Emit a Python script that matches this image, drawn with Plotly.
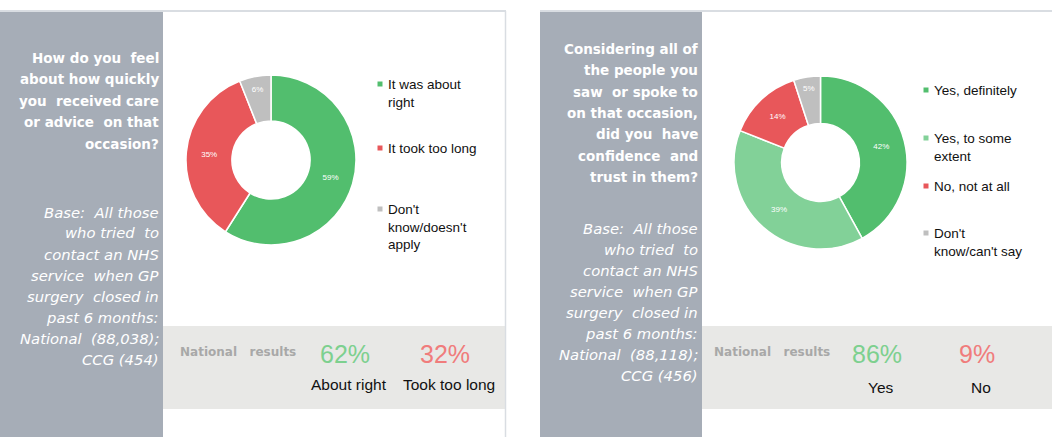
import plotly.graph_objects as go

W, H = 1052, 437

# ---- data -------------------------------------------------------------
q1_labels = ["It was about right", "It took too long", "Don't know/doesn't apply"]
q1_values = [59, 35, 6]
q1_colors = ["#52BE6E", "#E8575A", "#BFBFBF"]
q1_legend_text = ["It was about<br>right", "It took too long", "Don't<br>know/doesn't<br>apply"]
q1_national_values = ["62%", "32%"]
q1_national_labels = ["About right", "Took too long"]

q2_labels = ["Yes, definitely", "Yes, to some extent", "No, not at all", "Don't know/can't say"]
q2_values = [42, 39, 14, 5]
q2_colors = ["#52BE6E", "#82D198", "#E8575A", "#BFBFBF"]
q2_legend_text = ["Yes, definitely", "Yes, to some<br>extent", "No, not at all", "Don't<br>know/can't say"]
q2_national_values = ["86%", "9%"]
q2_national_labels = ["Yes", "No"]

q1_question = ["How do you  feel", "about how quickly", "you  received care", "or advice  on that", "occasion?"]
q1_base = ["Base:  All those", "who tried  to", "contact an NHS", "service  when GP", "surgery  closed in", "past 6 months:",
           "National  (88,038);", "CCG (454)"]
q2_question = ["Considering all of", "the people you", "saw  or spoke to", "on that occasion,", "did you  have",
               "confidence  and", "trust in them?"]
q2_base = ["Base:  All those", "who tried  to", "contact an NHS", "service  when GP", "surgery  closed in",
           "past 6 months:", "National  (88,118);", "CCG (456)"]

SIDEBAR = "#A6ADB7"
BAND = "#E8E8E6"
BORDER = "#D9DDE2"
FONT = "Liberation Sans, Arial, sans-serif"
SIDE_FONT = "DejaVu Sans, sans-serif"


def px(x):
    return x / W


def py(y):
    return 1 - y / H


fig = go.Figure()

# ---- donuts -----------------------------------------------------------
def add_donut(labels, values, colors, x0, x1, y0, y1, hole):
    fig.add_trace(go.Pie(
        labels=labels, values=values, sort=False, direction="clockwise", rotation=0,
        hole=hole, marker=dict(colors=colors, line=dict(color="white", width=1.5)),
        texttemplate="%{value}%", textposition="inside", insidetextorientation="horizontal",
        textfont=dict(family=FONT, size=8, color="white"),
        domain=dict(x=[px(x0), px(x1)], y=[py(y1), py(y0)]),
        showlegend=False, hoverinfo="label+percent",
    ))


add_donut(q1_labels, q1_values, q1_colors, 186, 356, 75, 245, 0.46)
add_donut(q2_labels, q2_values, q2_colors, 734, 907, 76, 249, 0.45)

shapes = []
annotations = []

# ---- panel backgrounds --------------------------------------------------
def panel(x_side0, x_side1, x_end, right_border):
    # top rule
    shapes.append(dict(type="rect", xref="paper", yref="paper", x0=px(x_side0), x1=px(x_end),
                       y0=py(12), y1=py(10), fillcolor=BORDER, line_width=0, layer="below"))
    # sidebar
    shapes.append(dict(type="rect", xref="paper", yref="paper", x0=px(x_side0), x1=px(x_side1),
                       y0=0, y1=py(12), fillcolor=SIDEBAR, line_width=0, layer="below"))
    # national results band
    shapes.append(dict(type="rect", xref="paper", yref="paper", x0=px(x_side1), x1=px(x_end),
                       y0=py(409), y1=py(326), fillcolor=BAND, line_width=0, layer="below"))
    if right_border:
        shapes.append(dict(type="line", xref="paper", yref="paper", x0=px(x_end - 0.5), x1=px(x_end - 0.5),
                           y0=0, y1=py(11), line=dict(color=BORDER, width=1.5), layer="below"))


panel(0, 163, 506, True)
panel(540, 702, 1052, False)


def text_lines(lines, x_right, y_start, step, size, italic=False, bold=False):
    for i, line in enumerate(lines):
        t = line.replace("  ", "&nbsp; ")
        if bold:
            t = "<b>" + t + "</b>"
        if italic:
            t = "<i>" + t + "</i>"
        annotations.append(dict(text=t, xref="paper", yref="paper", x=px(x_right), y=py(y_start + i * step),
                                xanchor="right", yanchor="middle", showarrow=False,
                                font=dict(family=SIDE_FONT, size=size, color="white")))


text_lines(q1_question, 161, 58, 21.4, 13.5, bold=True)
text_lines(q1_base, 161, 212, 21.0, 14.8, italic=True)
text_lines(q2_question, 700, 49, 21.3, 13.5, bold=True)
text_lines(q2_base, 700, 228, 21.1, 14.8, italic=True)


# ---- legends ------------------------------------------------------------
def legend(texts, colors, x_mark, x_text, y_tops):
    for t, c, y in zip(texts, colors, y_tops):
        shapes.append(dict(type="rect", xref="paper", yref="paper", x0=px(x_mark - 2.5), x1=px(x_mark + 2.5),
                           y0=py(y + 2.5), y1=py(y - 2.5), fillcolor=c, line_width=0))
        annotations.append(dict(text=t, xref="paper", yref="paper", x=px(x_text), y=py(y - 9),
                                xanchor="left", yanchor="top", align="left", showarrow=False,
                                font=dict(family=FONT, size=13.5, color="#111111")))


legend(q1_legend_text, q1_colors, 380, 386, [84, 148, 209])
legend(q2_legend_text, q2_colors, 926, 932, [90, 138, 186, 233])


# ---- national results ---------------------------------------------------
def national(x_label, centers, values, labels, val_colors, y_lab):
    annotations.append(dict(text="<b>National&nbsp;&nbsp; results</b>", xref="paper", yref="paper", x=px(x_label),
                            y=py(352), xanchor="left", yanchor="middle", showarrow=False,
                            font=dict(family=SIDE_FONT, size=12, color="#A8A8A8")))
    for cx, v, lab, col in zip(centers, values, labels, val_colors):
        annotations.append(dict(text=v, xref="paper", yref="paper", x=px(cx), y=py(354),
                                xanchor="center", yanchor="middle", showarrow=False,
                                font=dict(family=FONT, size=25, color=col)))
        annotations.append(dict(text=lab, xref="paper", yref="paper", x=px(cx + 4), y=py(y_lab),
                                xanchor="center", yanchor="middle", showarrow=False,
                                font=dict(family=FONT, size=15.5, color="#111111")))


national(178, [345, 445], q1_national_values, q1_national_labels, ["#7DD08F", "#F07C7C"], 384)
national(712, [877, 977], q2_national_values, q2_national_labels, ["#7DD08F", "#F07C7C"], 387)

fig.update_layout(
    width=W, height=H, margin=dict(l=0, r=0, t=0, b=0),
    paper_bgcolor="white", plot_bgcolor="white",
    shapes=shapes, annotations=annotations, showlegend=False,
)

fig.write_html("out.html")
